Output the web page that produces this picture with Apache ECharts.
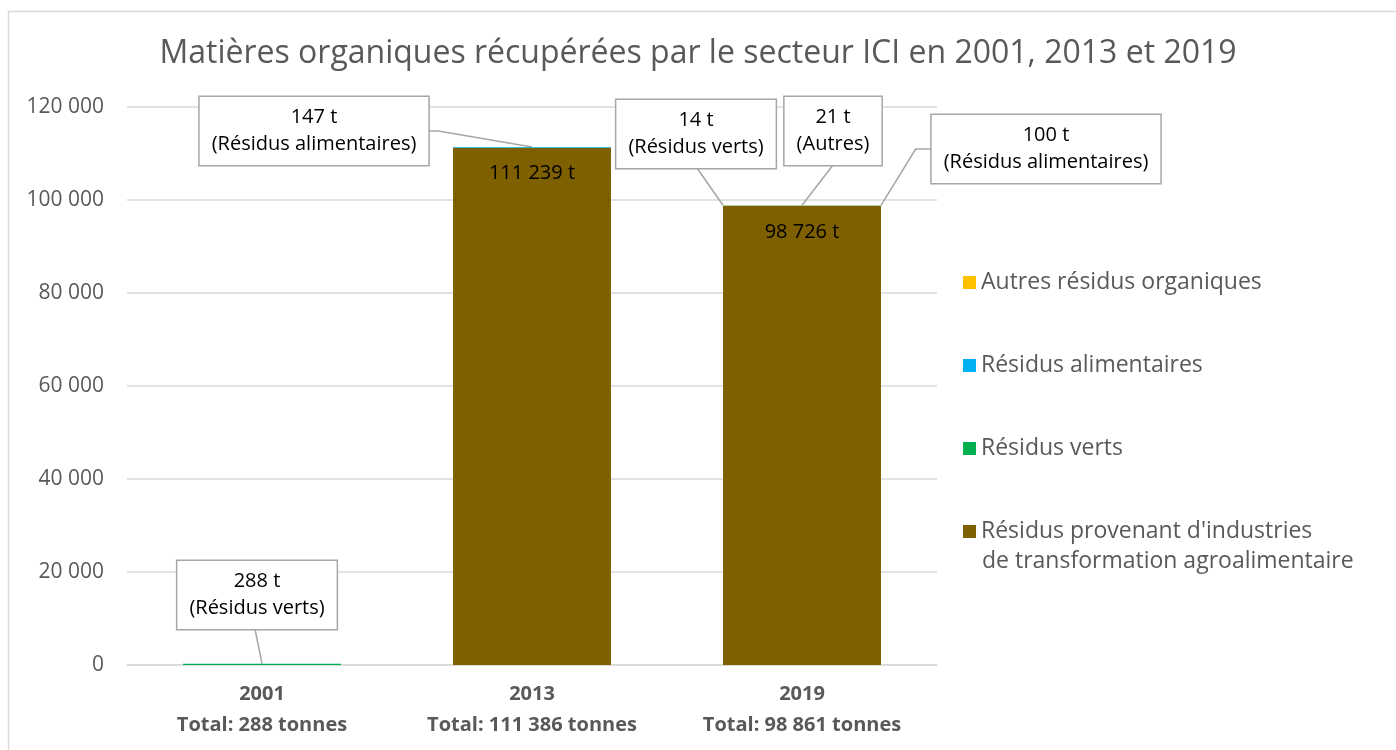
<!DOCTYPE html>
<html>
<head>
<meta charset="utf-8">
<script src="https://cdn.jsdelivr.net/npm/echarts@6/dist/echarts.min.js"></script>
<style>
  html, body { margin: 0; padding: 0; background: #fff; }
  #chart { width: 1396px; height: 750px; }
</style>
</head>
<body>
<div id="chart"></div>
<script>
// données
var years = ["2001", "2013", "2019"];
var totals = [288, 111386, 98861];
var agro = [0, 111239, 98726];
var verts = [288, 0, 14];
var alimentaires = [0, 147, 100];
var autres = [0, 0, 21];
var yTicks = [0, 20000, 40000, 60000, 80000, 100000, 120000];

var seriesNames = [
  "Résidus provenant d'industries\nde transformation agroalimentaire",
  "Résidus verts",
  "Résidus alimentaires",
  "Autres résidus organiques"
];
var shortNames = ["", "Résidus verts", "Résidus alimentaires", "Autres"];
var colors = ["#7F6000", "#00B050", "#00B0F0", "#FFC000"];

// callout boxes: centre of box (px), where the leader hits the bar top (0 left .. 1 right), side it leaves the box
var callouts = {
  "1-0": { pos: [257, 595], hit: 0.5, from: "bottom", dx: -2 },
  "1-2": { pos: [696, 134], hit: 0, from: "bottom", dx: 1 },
  "2-1": { pos: [314, 131], hit: 0.5, from: "right" },
  "2-2": { pos: [1046, 149], hit: 1, from: "left" },
  "3-2": { pos: [833, 131], hit: 0.5, from: "bottom", dx: 0 }
};

var FONT = "Open Sans";
var BOX_FONT = 20, BOX_LH = 27, BOX_PAD = [7, 12, 7, 12];
var BAR_W = 0.585;
var LEGEND_TOP = 262, LEGEND_STEP = 83, LEGEND_FONT = 23;

function fmt(n) {
  return String(n).replace(/\B(?=(\d{3})+(?!\d))/g, " ");
}

function buildData(values, si) {
  return values.map(function (v, i) {
    var item = { value: v };
    if (si === 0) {
      item.label = { show: v > 0 };
    } else {
      item.label = { show: callouts[si + "-" + i] !== undefined && v > 0 };
    }
    return item;
  });
}

var chartDom = document.getElementById("chart");
var myChart = echarts.init(chartDom);
var option;

var seriesValues = [agro, verts, alimentaires, autres];

var series = seriesValues.map(function (vals, si) {
  var s = {
    name: seriesNames[si],
    type: "bar",
    stack: "total",
    barWidth: (BAR_W * 100) + "%",
    itemStyle: { color: colors[si] },
    data: buildData(vals, si),
    emphasis: { disabled: true }
  };
  if (si === 0) {
    s.label = {
      position: "insideTop",
      distance: 16,
      color: "#000",
      fontFamily: FONT,
      fontSize: 20,
      formatter: function (p) { return fmt(p.value) + " t"; }
    };
  } else {
    s.label = {
      position: "top",
      color: "#000",
      fontFamily: FONT,
      fontSize: BOX_FONT,
      lineHeight: BOX_LH,
      backgroundColor: "#fff",
      borderColor: "#a6a6a6",
      borderWidth: 1.5,
      padding: BOX_PAD,
      formatter: function (p) {
        return fmt(p.value) + " t\n(" + shortNames[si] + ")";
      }
    };
    s.labelLayout = function (params) {
      var c = callouts[si + "-" + params.dataIndex];
      if (!c) return {};
      return { x: c.pos[0], y: c.pos[1], align: "center", verticalAlign: "middle" };
    };
  }
  return s;
});

var staticGraphics = [
  {
    type: "rect",
    left: 6,
    top: 9,
    shape: { width: 1400, height: 760 },
    style: { fill: "none", stroke: "#d9d9d9", lineWidth: 1.5 },
    z: -1
  },
  {
    // second line of the last legend entry (icon sits on the first line)
    type: "text",
    left: 982,
    top: LEGEND_TOP + 3 * LEGEND_STEP + 39,
    style: {
      text: seriesNames[0].split("\n")[1],
      font: LEGEND_FONT + "px '" + FONT + "'",
      fill: "#595959"
    }
  }
];

option = {
  animation: false,
  backgroundColor: "#fff",
  title: {
    text: "Matières organiques récupérées par le secteur ICI en 2001, 2013 et 2019",
    left: "center",
    top: 33,
    textStyle: {
      fontFamily: FONT,
      fontSize: 32,
      fontWeight: "normal",
      color: "#595959"
    }
  },
  legend: {
    orient: "vertical",
    left: 958,
    top: LEGEND_TOP,
    itemWidth: 13,
    itemHeight: 13,
    itemGap: LEGEND_STEP - 31,
    icon: "rect",
    data: seriesNames.slice().reverse(),
    formatter: function (name) { return name.split("\n")[0]; },
    textStyle: {
      fontFamily: FONT,
      fontSize: LEGEND_FONT,
      color: "#595959",
      lineHeight: 31
    }
  },
  grid: {
    left: 127,
    right: 459,
    top: 107,
    bottom: 85
  },
  xAxis: {
    type: "category",
    data: years,
    axisTick: { show: false },
    axisLine: { lineStyle: { color: "#d9d9d9", width: 1.5 } },
    axisLabel: {
      interval: 0,
      margin: 14,
      fontFamily: FONT,
      fontSize: 20,
      fontWeight: "bold",
      color: "#595959",
      lineHeight: 31,
      formatter: function (v, i) {
        return v + "\nTotal: " + fmt(totals[i]) + " tonnes";
      }
    }
  },
  yAxis: {
    type: "value",
    min: yTicks[0],
    max: yTicks[yTicks.length - 1],
    interval: yTicks[1] - yTicks[0],
    axisLine: { show: false },
    axisTick: { show: false },
    splitLine: { lineStyle: { color: "#d9d9d9", width: 1.5 } },
    axisLabel: {
      margin: 23,
      fontFamily: FONT,
      fontSize: 21,
      color: "#595959",
      formatter: function (v) { return fmt(v); }
    }
  },
  graphic: staticGraphics,
  series: series
};

option && myChart.setOption(option);

// leader lines from callout boxes to the top of each stacked bar
function measure(text) {
  var ctx = document.createElement("canvas").getContext("2d");
  ctx.font = BOX_FONT + "px '" + FONT + "'";
  return ctx.measureText(text).width;
}

function drawLeaders() {
  var band = myChart.convertToPixel({ xAxisIndex: 0 }, 1) - myChart.convertToPixel({ xAxisIndex: 0 }, 0);
  var half = band * BAR_W / 2;
  var boxH = BOX_LH * 2 + BOX_PAD[0] + BOX_PAD[2];
  var lines = [];
  Object.keys(callouts).forEach(function (key) {
    var si = +key.split("-")[0];
    var i = +key.split("-")[1];
    var c = callouts[key];
    var top = 0;
    seriesValues.forEach(function (vals) { top += vals[i]; });
    var p = myChart.convertToPixel({ xAxisIndex: 0, yAxisIndex: 0 }, [i, top]);
    var end = [p[0] - half + 2 * half * c.hit, p[1]];
    var txtW = Math.max(measure(fmt(seriesValues[si][i]) + " t"), measure("(" + shortNames[si] + ")"));
    var boxW = txtW + BOX_PAD[1] + BOX_PAD[3];
    var cx = c.pos[0], cy = c.pos[1];
    var pts;
    if (c.from === "bottom") {
      pts = [[cx + (c.dx || 0), cy + boxH / 2], end];
    } else if (c.from === "right") {
      pts = [[cx + boxW / 2, cy], [cx + boxW / 2 + 10, cy], end];
    } else {
      pts = [[cx - boxW / 2, cy], [cx - boxW / 2 - 16, cy], end];
    }
    lines.push({
      type: "polyline",
      shape: { points: pts },
      style: { stroke: "#a6a6a6", lineWidth: 1.5, fill: null },
      z: 1
    });
  });
  myChart.setOption({ graphic: staticGraphics.concat(lines) }, { replaceMerge: ["graphic"] });
}

drawLeaders();
</script>
</body>
</html>
